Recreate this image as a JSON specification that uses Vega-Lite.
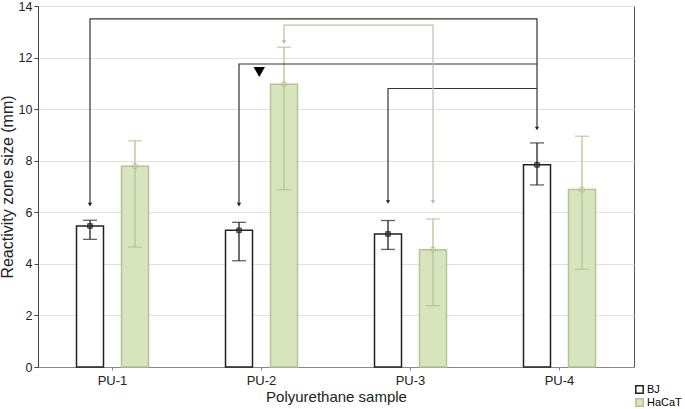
{
  "$schema": "https://vega.github.io/schema/vega-lite/v6.json",
  "width": 596,
  "height": 361,
  "autosize": {"type": "none"},
  "padding": {"left": 38, "top": 6, "right": 51, "bottom": 42},
  "background": "white",
  "config": {
    "font": "Liberation Sans",
    "view": {"stroke": "#555", "strokeWidth": 1},
    "axis": {"labelFont": "Liberation Sans", "titleFont": "Liberation Sans", "labelColor": "#222", "titleColor": "#222", "titleFontWeight": "normal"}
  },
  "datasets": {
    "bars": [
      {"cat": "PU-1", "cell": "BJ", "mean": 5.47, "lo": 4.95, "hi": 5.69},
      {"cat": "PU-1", "cell": "HaCaT", "mean": 7.79, "lo": 4.65, "hi": 8.77},
      {"cat": "PU-2", "cell": "BJ", "mean": 5.30, "lo": 4.12, "hi": 5.61},
      {"cat": "PU-2", "cell": "HaCaT", "mean": 10.97, "lo": 6.88, "hi": 12.40},
      {"cat": "PU-3", "cell": "BJ", "mean": 5.16, "lo": 4.56, "hi": 5.68},
      {"cat": "PU-3", "cell": "HaCaT", "mean": 4.55, "lo": 2.38, "hi": 5.74},
      {"cat": "PU-4", "cell": "BJ", "mean": 7.84, "lo": 7.06, "hi": 8.69},
      {"cat": "PU-4", "cell": "HaCaT", "mean": 6.88, "lo": 3.79, "hi": 8.95}
    ],
    "links": [
      {"path": "A", "ord": 1, "cat": "PU-1", "cell": "BJ", "y": 6.3},
      {"path": "A", "ord": 2, "cat": "PU-1", "cell": "BJ", "y": 13.5},
      {"path": "A", "ord": 3, "cat": "PU-4", "cell": "BJ", "y": 13.5},
      {"path": "A", "ord": 4, "cat": "PU-4", "cell": "BJ", "y": 9.25},
      {"path": "B", "ord": 1, "cat": "PU-2", "cell": "BJ", "y": 6.3},
      {"path": "B", "ord": 2, "cat": "PU-2", "cell": "BJ", "y": 11.75},
      {"path": "B", "ord": 3, "cat": "PU-4", "cell": "BJ", "y": 11.75},
      {"path": "C", "ord": 1, "cat": "PU-3", "cell": "BJ", "y": 6.4},
      {"path": "C", "ord": 2, "cat": "PU-3", "cell": "BJ", "y": 10.8},
      {"path": "C", "ord": 3, "cat": "PU-4", "cell": "BJ", "y": 10.8},
      {"path": "D", "ord": 1, "cat": "PU-2", "cell": "HaCaT", "y": 12.6},
      {"path": "D", "ord": 2, "cat": "PU-2", "cell": "HaCaT", "y": 13.26},
      {"path": "D", "ord": 3, "cat": "PU-3", "cell": "HaCaT", "y": 13.26},
      {"path": "D", "ord": 4, "cat": "PU-3", "cell": "HaCaT", "y": 6.4}
    ],
    "arrows": [
      {"cat": "PU-1", "cell": "BJ", "y": 6.3},
      {"cat": "PU-4", "cell": "BJ", "y": 9.25},
      {"cat": "PU-2", "cell": "BJ", "y": 6.3},
      {"cat": "PU-3", "cell": "BJ", "y": 6.4},
      {"cat": "PU-2", "cell": "HaCaT", "y": 12.6},
      {"cat": "PU-3", "cell": "HaCaT", "y": 6.4}
    ],
    "marks": [
      {"cat": "PU-2", "y": 11.44}
    ]
  },
  "encoding": {
    "x": {
      "field": "cat", "type": "nominal",
      "scale": {"domain": ["PU-1", "PU-2", "PU-3", "PU-4"], "paddingInner": 0, "paddingOuter": 0},
      "axis": {"title": "Polyurethane sample", "labelAngle": 0, "labelFontSize": 13, "titleFontSize": 15, "labelPadding": 4, "tickSize": 3, "tickColor": "#888", "domainColor": "#888", "titlePadding": 2}
    },
    "xOffset": {"field": "cell", "type": "nominal", "scale": {"domain": ["BJ", "HaCaT"], "paddingInner": 0.4, "paddingOuter": 0.856}}
  },
  "layer": [
    {
      "data": {"name": "bars"},
      "mark": {"type": "bar", "strokeWidth": 1.5},
      "encoding": {
        "y": {
          "field": "mean", "type": "quantitative",
          "scale": {"domain": [0, 14], "nice": false},
          "axis": {"title": "Reactivity zone size (mm)", "values": [0, 2, 4, 6, 8, 10, 12, 14], "labelFontSize": 12.5, "titleFontSize": 16, "tickSize": 4, "labelPadding": 2, "titlePadding": 3, "gridColor": "#e2e2e2", "domainColor": "#444", "tickColor": "#444"}
        },
        "fill": {
          "field": "cell", "type": "nominal",
          "scale": {"domain": ["BJ", "HaCaT"], "range": ["#ffffff", "#d7e4be"]},
          "legend": {"title": null, "orient": "none", "legendX": 596, "legendY": 378, "symbolType": "square", "symbolSize": 55, "symbolStrokeWidth": 1.5, "labelFontSize": 11, "labelFont": "Liberation Sans", "rowPadding": -4, "labelOffset": 2, "padding": 0, "labelLimit": 60}
        },
        "stroke": {
          "field": "cell", "type": "nominal",
          "scale": {"domain": ["BJ", "HaCaT"], "range": ["#222222", "#b3c592"]},
          "legend": {"title": null, "orient": "none", "legendX": 596, "legendY": 378, "symbolType": "square", "symbolSize": 55, "symbolStrokeWidth": 1.5, "labelFontSize": 11, "labelFont": "Liberation Sans", "rowPadding": -4, "labelOffset": 2, "padding": 0, "labelLimit": 60}
        }
      }
    },
    {
      "data": {"name": "bars"},
      "mark": {"type": "rule", "strokeWidth": 1.3},
      "encoding": {
        "y": {"field": "lo", "type": "quantitative"},
        "y2": {"field": "hi"},
        "stroke": {"field": "cell", "type": "nominal"}
      }
    },
    {
      "data": {"name": "bars"},
      "mark": {"type": "tick", "size": 14, "thickness": 1.3},
      "encoding": {
        "y": {"field": "lo", "type": "quantitative"},
        "color": {"field": "cell", "type": "nominal", "scale": {"domain": ["BJ", "HaCaT"], "range": ["#222222", "#a9bc8a"]}, "legend": null}
      }
    },
    {
      "data": {"name": "bars"},
      "mark": {"type": "tick", "size": 14, "thickness": 1.3},
      "encoding": {
        "y": {"field": "hi", "type": "quantitative"},
        "color": {"field": "cell", "type": "nominal", "legend": null}
      }
    },
    {
      "data": {"name": "bars"},
      "transform": [{"filter": "datum.cell === 'BJ'"}],
      "mark": {"type": "point", "shape": "square", "filled": true, "size": 22, "fill": "#333", "stroke": "#111", "strokeWidth": 1},
      "encoding": {
        "y": {"field": "mean", "type": "quantitative"}
      }
    },
    {
      "data": {"name": "bars"},
      "transform": [{"filter": "datum.cell === 'HaCaT'"}],
      "mark": {"type": "point", "shape": "circle", "filled": false, "size": 28, "stroke": "#a9bc8a", "strokeWidth": 1},
      "encoding": {
        "y": {"field": "mean", "type": "quantitative"}
      }
    },
    {
      "data": {"name": "links"},
      "transform": [{"filter": "datum.cell === 'BJ'"}],
      "mark": {"type": "line", "strokeWidth": 1.2, "stroke": "#333", "interpolate": "linear"},
      "encoding": {
        "y": {"field": "y", "type": "quantitative"},
        "detail": {"field": "path"},
        "order": {"field": "ord", "type": "quantitative"}
      }
    },
    {
      "data": {"name": "links"},
      "transform": [{"filter": "datum.cell === 'HaCaT'"}],
      "mark": {"type": "line", "strokeWidth": 1.2, "stroke": "#b9c4a6", "interpolate": "linear"},
      "encoding": {
        "y": {"field": "y", "type": "quantitative"},
        "detail": {"field": "path"},
        "order": {"field": "ord", "type": "quantitative"}
      }
    },
    {
      "data": {"name": "arrows"},
      "transform": [{"filter": "datum.cell === 'BJ'"}],
      "mark": {"type": "point", "shape": "triangle-down", "filled": true, "size": 18, "fill": "#222", "opacity": 1},
      "encoding": {
        "y": {"field": "y", "type": "quantitative"}
      }
    },
    {
      "data": {"name": "arrows"},
      "transform": [{"filter": "datum.cell === 'HaCaT'"}],
      "mark": {"type": "point", "shape": "triangle-down", "filled": true, "size": 18, "fill": "#b0bd98", "opacity": 1},
      "encoding": {
        "y": {"field": "y", "type": "quantitative"}
      }
    },
    {
      "data": {"name": "marks"},
      "mark": {"type": "point", "shape": "triangle-down", "filled": true, "size": 130, "fill": "#000", "opacity": 1},
      "encoding": {
        "x": {"field": "cat", "type": "nominal", "bandPosition": 0.485},
        "xOffset": null,
        "y": {"field": "y", "type": "quantitative"}
      }
    }
  ]
}
